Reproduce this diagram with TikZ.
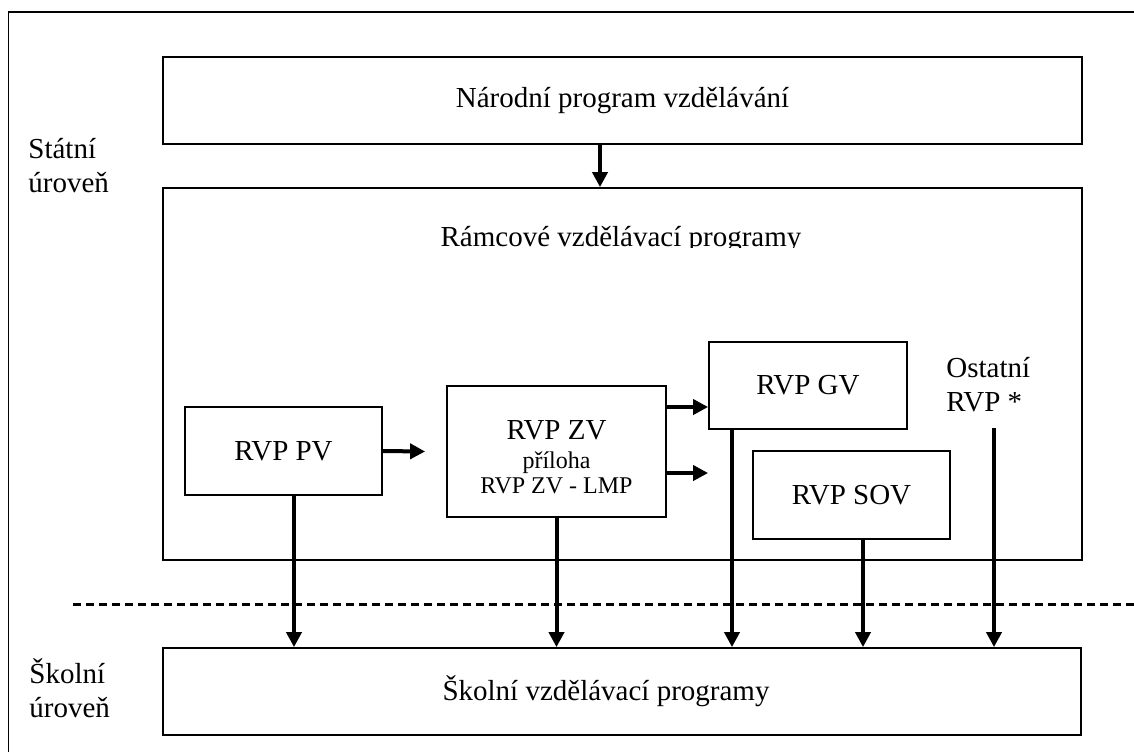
\documentclass[tikz,border=0pt]{standalone}
\usepackage{fontspec}
\setmainfont{Liberation Serif}
\usetikzlibrary{arrows.meta, positioning}

\begin{document}
\begin{tikzpicture}[x=0.5pt, y=-0.5pt,
    box/.style={draw, line width=0.9pt, inner sep=0pt, align=center,
      font=\fontsize{14.5}{17}\selectfont},
    lbl/.style={align=left, inner sep=0pt, font=\fontsize{14.5}{17}\selectfont},
    arr/.style={line width=2pt, -{Triangle[length=7.5pt, width=7.5pt]}}]
  \useasboundingbox (0,0) rectangle (1134,752);

  % Frame (runs off the page at right and bottom)
  \draw[line width=0.9pt] (8.5,752) |- (1134,12);

  % --- Level labels ---
  \node[lbl, anchor=base west] (state) at (28,192) {Státní\\úroveň};
  \node[lbl, anchor=base west] (school) at (29,717) {Školní\\úroveň};

  % --- Boxes ---
  \node[box, minimum width=459.5pt, minimum height=43.5pt] (npv) at (622.5,100.5)
    {Národní program vzdělávání};
  \node[box, minimum width=459.5pt, minimum height=186pt] (rvp) at (622.5,374) {};
  \node[box, minimum width=98.5pt, minimum height=44pt] (pv) at (283.5,451) {RVP PV};
  \node[box, minimum width=109.5pt, minimum height=65.5pt] (zv) at (556.5,451.5)
    {\rule{0pt}{15.5pt}RVP ZV\\[-2.5pt]{\fontsize{12}{13}\selectfont příloha}\\[-4.5pt]
     {\fontsize{12}{13}\selectfont RVP ZV - LMP}};
  \node[box, minimum width=99pt, minimum height=43.5pt] (gv) at (808,385.5) {RVP GV};
  \node[box, minimum width=98.5pt, minimum height=44pt] (sov) at (851.5,495) {RVP SOV};
  \node[box, minimum width=459pt, minimum height=43.5pt] (svp) at (622,691.5)
    {Školní vzdělávací programy\hspace*{16pt}};
  \node[lbl, anchor=base west] (ost) at (946,411) {Ostatní\\RVP *};

  % title of the RVP box, cut off at the bottom
  \begin{scope}
    \clip (163,188) rectangle (1082,247);
    \node[lbl, anchor=base] (rvptitle) at (621,246) {Rámcové vzdělávací programy};
  \end{scope}

  % --- Level border ---
  \coordinate (dashL) at (73,604);
  \coordinate (dashR) at (1134,604);
  \draw[line width=1.5pt, dash pattern=on 4pt off 2.5pt] (dashL) -- (dashR);

  % --- Arrows ---
  \draw[arr] (npv.south -| 600,0) -- (rvp.north -| 600,0);
  \draw[arr] (pv.east) -- ([xshift=-10.5pt]zv.west);
  \draw[arr] (zv.east |- 0,407) -- (gv.west |- 0,407);
  \draw[arr] (zv.east |- 0,473) -- (gv.west |- 0,473);

  % down to the school level
  \coordinate (ostTop) at (994,428);
  \draw[arr] (pv.south -| 294,0) -- (svp.north -| 294,0);
  \draw[arr] (zv.south) -- (zv.south |- svp.north);
  \draw[arr] (gv.south -| 732,0) -- (svp.north -| 732,0);
  \draw[arr] (sov.south -| 863,0) -- (svp.north -| 863,0);
  \draw[arr] (ostTop) -- (svp.north -| ostTop);

\end{tikzpicture}
\end{document}
